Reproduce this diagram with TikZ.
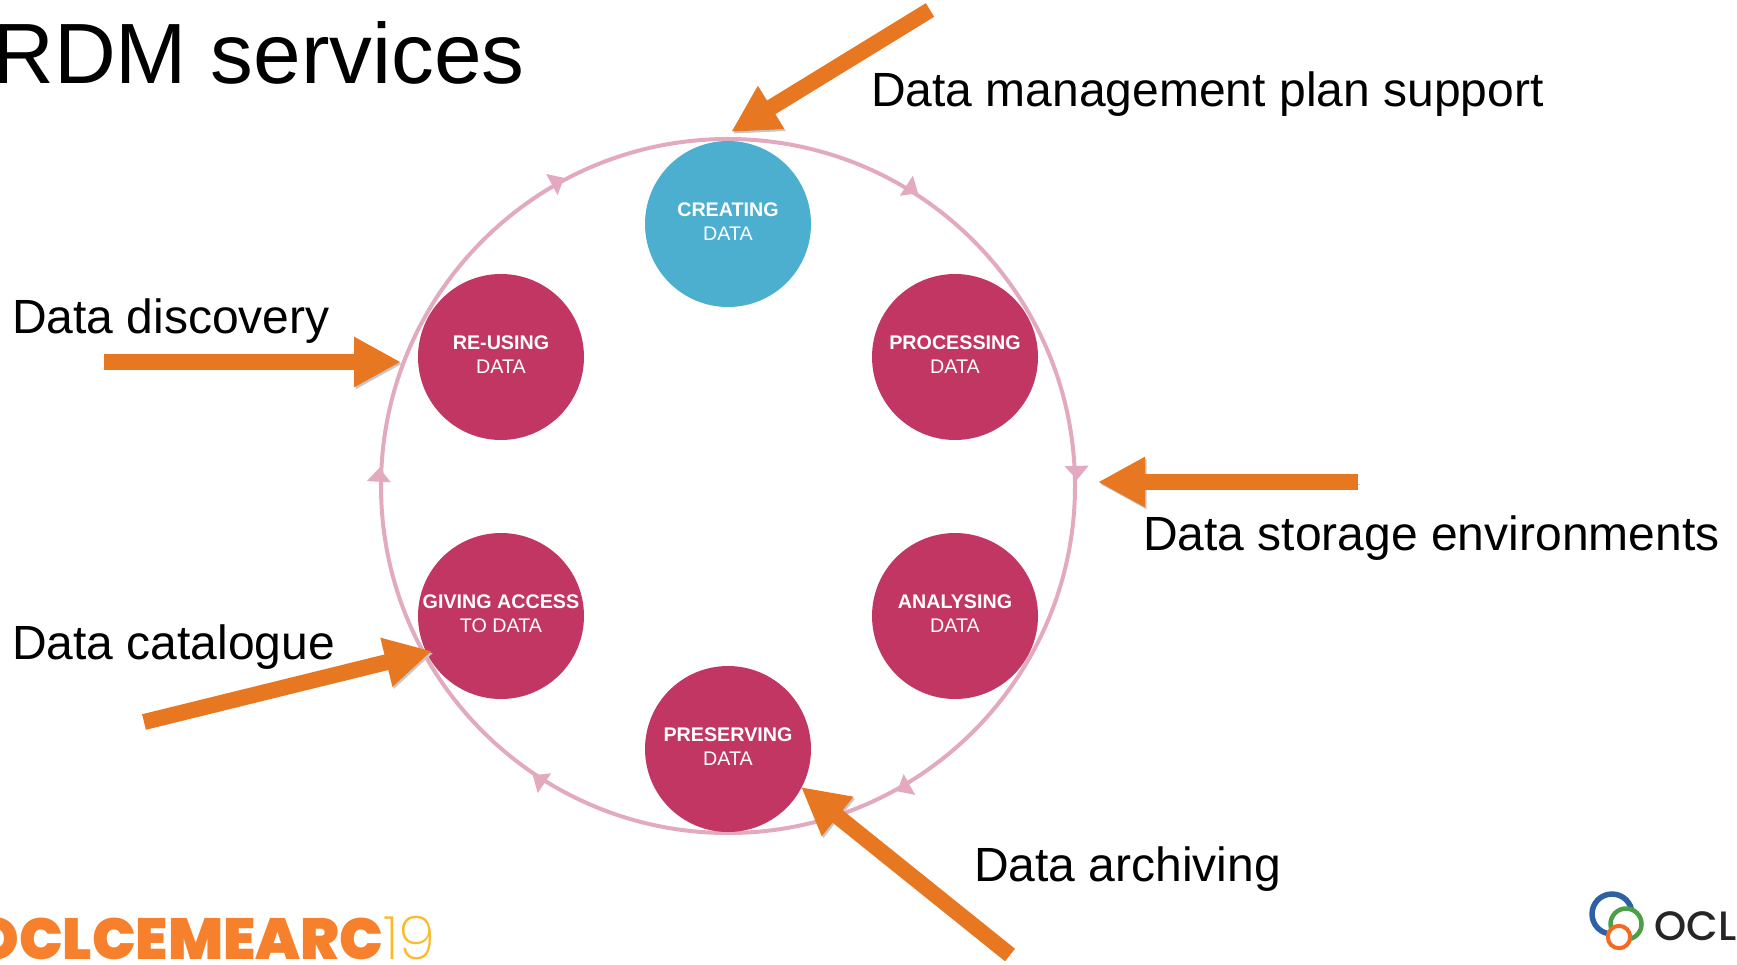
\documentclass[tikz,border=0pt]{standalone}
\usepackage{fontspec}
\setmainfont{Liberation Sans}
\newfontfamily\logofont{Poppins Black}
\newfontfamily\yearfont{Poppins ExtraLight}
\newfontfamily\oclcfont{Poppins Medium}
\usetikzlibrary{arrows.meta}
\definecolor{arrowOrange}{HTML}{E87722}
\definecolor{ringPink}{HTML}{E3A9BE}
\definecolor{phaseRed}{HTML}{C13663}
\definecolor{phaseBlue}{HTML}{4CAFCF}
\definecolor{emeaOrange}{HTML}{F6802B}
\definecolor{yearYellow}{HTML}{FDB92E}
\definecolor{logoBlue}{HTML}{2E60A6}
\definecolor{logoGreen}{HTML}{4C9F47}
\definecolor{logoOrange}{HTML}{F26B21}
\tikzset{
	phase/.style={circle,minimum size=166pt,inner sep=0pt,text=white,align=center,text depth=4.5pt,font=\fontsize{19.7}{23.5}\selectfont},
	callout/.style={anchor=base west,inner sep=0pt,font=\fontsize{48}{58}\selectfont},
	pointer/.style={draw=arrowOrange,line width=16pt,-{Triangle[length=47pt,width=47pt]},
		preaction={draw=black!22,transform canvas={shift={(1.5pt,-2pt)}}}},
}
\begin{document}
\begin{tikzpicture}[x=1pt,y=-1pt]
	\useasboundingbox[clip] (0,0) rectangle (1737,964);

	\node[draw=ringPink,line width=4pt,circle,minimum size=694pt,inner sep=0pt] (ring) at (728,486) {};
	\foreach \ang in {57,1.3,-61,-124,177,118.5} {
		\fill[ringPink,shift={(ring.\ang)},rotate=\ang] (0,0) -- (-12,-14) -- (12,-14) -- cycle;
	}

	\node[phase,fill=phaseBlue] (creating) at (728,224) {\textbf{CREATING}\\DATA};
	\node[phase,fill=phaseRed] (processing) at (955,357) {\textbf{PROCESSING}\\DATA};
	\node[phase,fill=phaseRed] (analysing) at (955,616) {\textbf{ANALYSING}\\DATA};
	\node[phase,fill=phaseRed] (preserving) at (728,749) {\textbf{PRESERVING}\\DATA};
	\node[phase,fill=phaseRed] (giving) at (501,616) {\textbf{GIVING ACCESS}\\TO DATA};
	\node[phase,fill=phaseRed] (reusing) at (501,357) {\textbf{RE-USING}\\DATA};

	\node[anchor=base west,font=\fontsize{85.6}{90}\selectfont,inner sep=0pt] (title) at (-8,83) {RDM services};
	\node[callout] (plan) at (871,106) {Data management plan support};
	\node[callout] (discovery) at (12,333) {Data discovery};
	\node[callout] (storage) at (1143,550) {Data storage environments};
	\node[callout] (catalogue) at (12,659) {Data catalogue};
	\node[callout] (archiving) at (974,881) {Data archiving};

	\coordinate (planTail) at (930,10);
	\coordinate (planTip) at (731,132);
	\coordinate (discoveryTail) at (104,362);
	\coordinate (discoveryTip) at (401,362);
	\coordinate (storageTail) at (1358,482);
	\coordinate (storageTip) at (1098,482);
	\coordinate (catalogueTail) at (144,722);
	\coordinate (catalogueTip) at (432,651);
	\coordinate (archivingTail) at (1010,955);
	\coordinate (archivingTip) at (801,787);
	\draw[pointer] (planTail) -- (planTip);
	\draw[pointer] (discoveryTail) -- (discoveryTip);
	\draw[pointer] (storageTail) -- (storageTip);
	\draw[pointer] (catalogueTail) -- (catalogueTip);
	\draw[pointer] (archivingTail) -- (archivingTip);

	% footer logos
	\node[anchor=base east,inner sep=0pt,text=emeaOrange,font=\logofont\fontsize{58}{60}\selectfont] (emea) at (383,959) {OCLCEMEARC};
	\node[anchor=base west,inner sep=0pt,text=yearYellow,font=\yearfont\fontsize{60}{60}\selectfont] (year) at (emea.base east) {19};
	\draw[draw=logoBlue,line width=5.5pt] (1612,914) circle (20);
	\draw[draw=logoGreen,fill=white,line width=4.5pt] (1626,924) circle (15.5);
	\draw[draw=logoOrange,fill=white,line width=4pt] (1619,937) circle (11.2);
	\node[anchor=base west,inner sep=0pt,text=black!85,font=\oclcfont\fontsize{41}{41}\selectfont] (oclc) at (1654,940) {OCLC};
\end{tikzpicture}
\end{document}
